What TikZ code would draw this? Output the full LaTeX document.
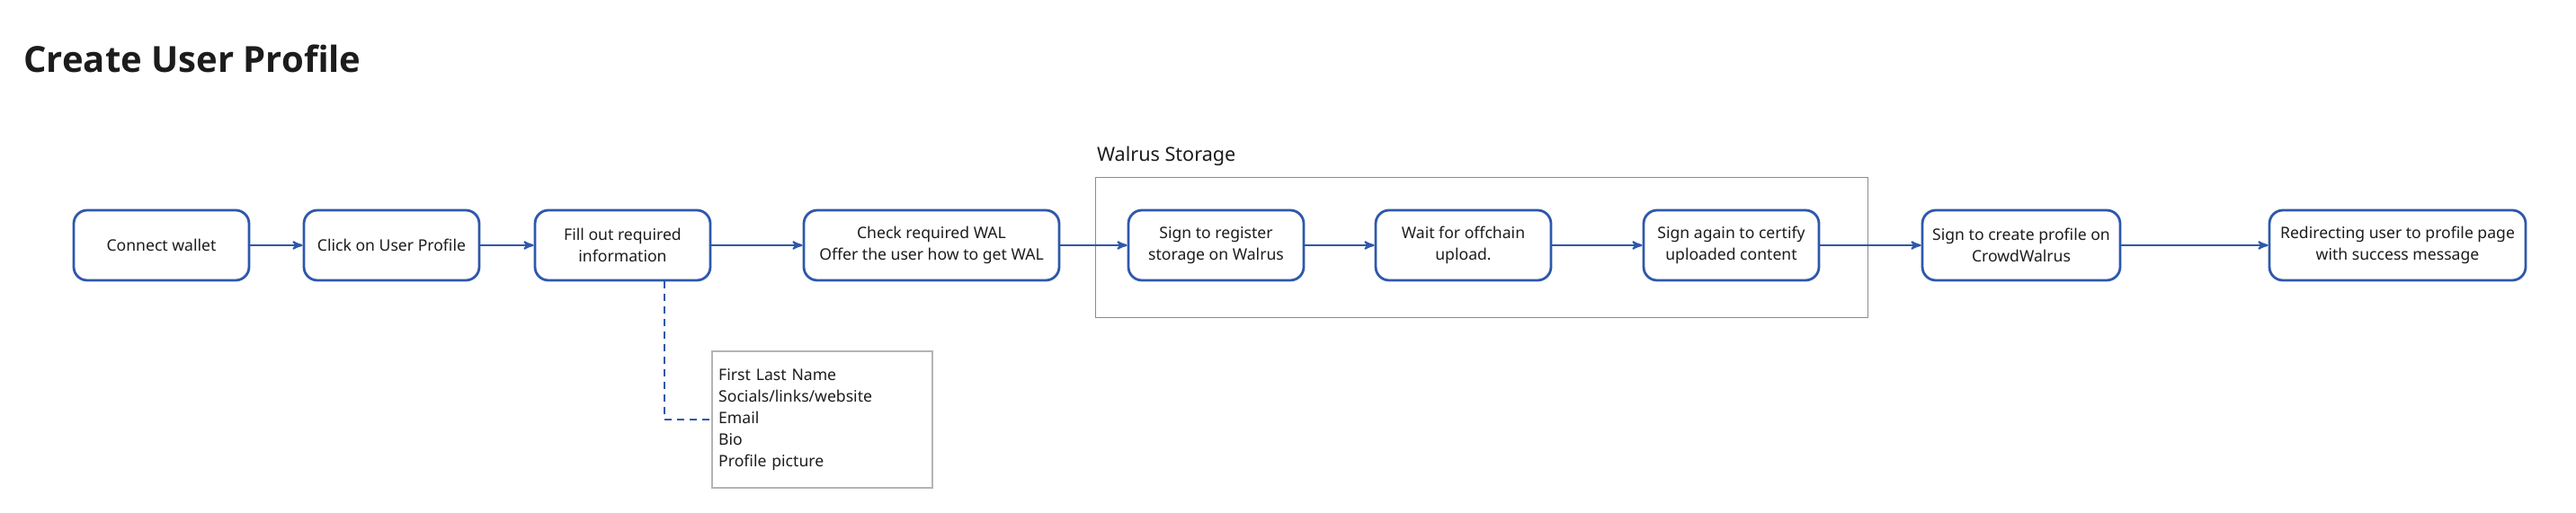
\documentclass[tikz,border=0pt]{standalone}
\usepackage{fontspec}
\setmainfont{Noto Sans}
\newfontfamily\headfont{Open Sans}
\usepackage{xcolor}
\usepackage{tikz}
\usetikzlibrary{arrows}
\usetikzlibrary{positioning, calc}
\definecolor{flowblue}{HTML}{2E58AB}
\definecolor{framegray}{HTML}{8C8C8C}
\definecolor{notegray}{HTML}{B4B4B4}
\definecolor{inktext}{HTML}{1C1C1C}
\tikzset{
    stepbox/.style = {draw=flowblue, line width=1.4pt, rounded corners=7.5pt,
        minimum width=97.5pt, minimum height=39pt, inner sep=0pt, align=center,
        text=inktext, font=\fontsize{8.8}{11.8}\selectfont},
    widebox/.style = {stepbox, minimum width=142pt},
    notebox/.style = {draw=notegray, line width=0.8pt, text width=115.5pt,
        inner xsep=3.5pt, minimum height=76pt, align=left,
        text=inktext, font=\fontsize{8.8}{12}\selectfont},
    groupframe/.style = {draw=framegray, line width=0.8pt},
    flow/.style = {->, >=stealth', draw=flowblue, line width=1pt},
    notelink/.style = {draw=flowblue, line width=1.2pt, dash pattern=on 4pt off 3pt},
}

\begin{document}
\begin{tikzpicture}
        \path[use as bounding box] (0,0) rectangle (1432.5pt,-285.5pt);
        \node (title) [anchor=base west, inner sep=0pt, text=inktext,
            font=\headfont\fontsize{20}{24}\selectfont\bfseries] at (13pt,-40.5pt) {Create User Profile};
        \node (wallet) [stepbox] at (89.75pt,-136.5pt) {Connect wallet};
        \node (click) [stepbox, right=29.1pt of wallet] {Click on User Profile};
        \node (fill) [stepbox, right=29.6pt of click] {Fill out required\\information};
        \node (check) [widebox, right=50.6pt of fill] {Check required WAL\\Offer the user how to get WAL};
        \node (register) [stepbox, right=37.1pt of check] {Sign to register\\storage on Walrus};
        \node (wait) [stepbox, right=38.6pt of register] {Wait for offchain\\upload.};
        \node (certify) [stepbox, right=50.1pt of wait] {Sign again to certify\\uploaded content};
        \node (create) [stepbox, minimum width=110pt, right=56.1pt of certify] {Sign to create profile on\\CrowdWalrus};
        \node (redirect) [widebox, minimum width=142.5pt, right=81.6pt of create] {Redirecting user to profile page\\with success message};
        \node (fields) [notebox, below right=38.5pt and 0pt of fill.south east]
            {First Last Name\\Socials/links/website\\Email\\Bio\\Profile picture};
        \coordinate (storenw) at ($(register.north west)+(-17.5pt,17.5pt)$);
        \coordinate (storese) at ($(certify.south east)+(26.5pt,-20pt)$);
        \draw[groupframe] (storenw) rectangle (storese);
        \node (storelabel) [anchor=base west, inner sep=0pt, text=inktext,
            font=\fontsize{10.8}{13}\selectfont] at ($(storenw)+(0.5pt,9pt)$) {Walrus Storage};
        \draw[flow] (wallet) -- (click);
        \draw[flow] (click) -- (fill);
        \draw[flow] (fill) -- (check);
        \draw[flow] (check) -- (register);
        \draw[flow] (register) -- (wait);
        \draw[flow] (wait) -- (certify);
        \draw[flow] (certify) -- (create);
        \draw[flow] (create) -- (redirect);
        \draw[notelink] ([xshift=23.25pt]fill.south) |- (fields.west);
\end{tikzpicture}
\end{document}
